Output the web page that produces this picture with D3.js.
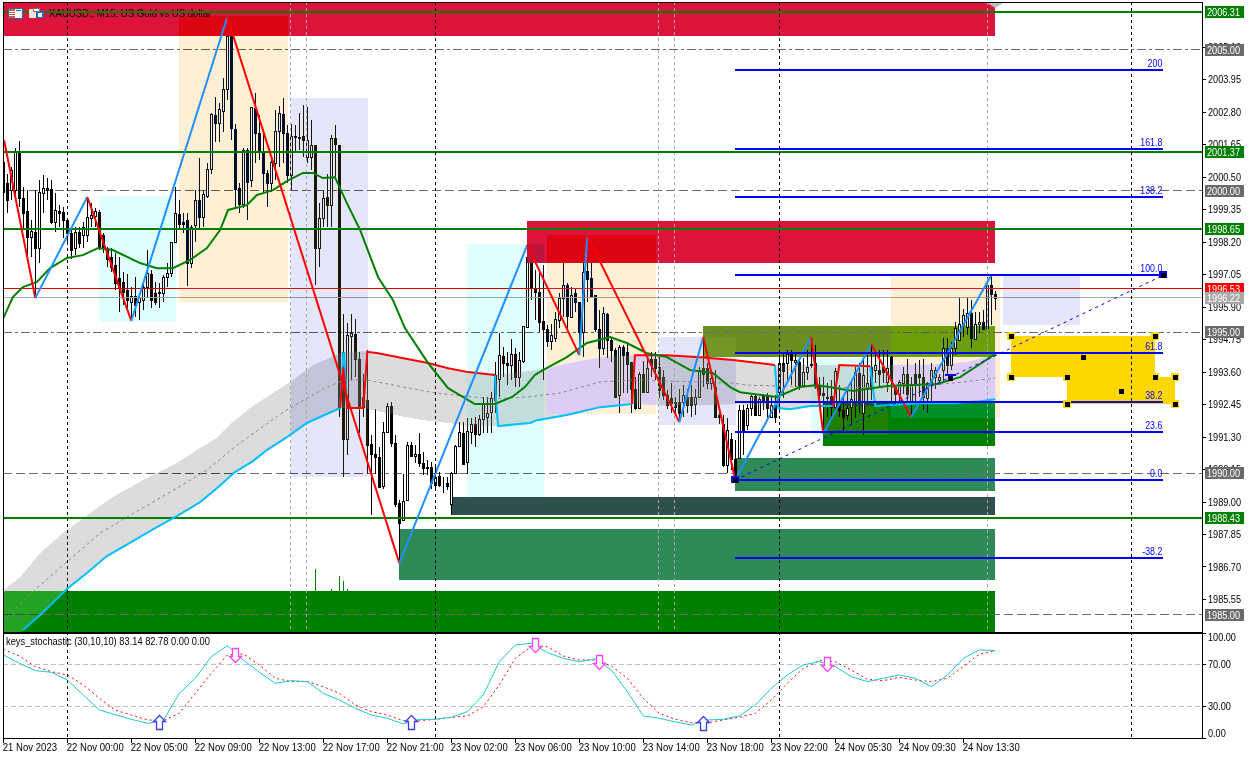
<!DOCTYPE html>
<html><head><meta charset="utf-8">
<script src="https://cdn.jsdelivr.net/npm/d3@7/dist/d3.min.js"></script>
<style>
html,body{margin:0;padding:0;background:#fff;overflow:hidden}
text{font-family:"Liberation Sans",sans-serif;font-size:11px}
</style></head><body>
<svg id="c" width="1252" height="758"></svg>
<script>
// ---------- candles (bar 0 .. 248) ----------
const highs=[
2001.44,2000.61,2000.85,2001.5,2001.77,2000.14,2000.02,1998.96,2000.02,2000.38,
2000.56,2000.44,2000.38,1999.91,1999.49,1999.43,1999.02,1998.73,1998.73,1998.73,
1998.9,1999.78,1999.55,1999.38,1999.32,1998.49,1998.02,1997.96,1997.78,1997.66,
1997.13,1997.07,1996.6,1996.96,1996.37,1996.78,1997.9,1997.19,1996.78,1996.72,
1997.02,1997.43,1998.2,2000.14,1999.67,1999.2,1999.2,1998.79,2000.02,2001.15,
2000.02,2000.97,2002.74,2003.33,2003.09,2003.98,2006.16,2006.16,2002.38,2000.26,
2001.5,2001.5,2002.97,2003.45,2002.68,2002.03,2000.73,2001.09,2002.86,2003,
2003.27,2002.33,2002.38,2002.33,2002.74,2003.03,2002.97,2002.5,2001.62,1999.55,
2000.02,2000.61,2001.97,2002.33,2001.62,1995.63,1995.33,1995.63,1995.46,1994.3,
1993.53,1994.36,1991.37,1992.29,1990.94,1991.82,1992.47,1992.53,1991.35,1989.05,
1989.99,1991.12,1991.12,1990.99,1991.41,1990.76,1990.47,1990.41,1990.23,1990.05,
1989.88,1989.88,1990.05,1990.99,1991.82,1991.82,1991.94,1991.94,1992,1992.06,
1992.71,1992.71,1992.89,1993.95,1994.95,1994.48,1994.3,1994.74,1994.42,1994.3,
1995.21,1998.08,1997.78,1997.19,1997.13,1997.37,1995.24,1995.3,1995.72,1996.37,
1997.43,1996.72,1996.6,1996.55,1996.07,1997.43,1998.4,1997.84,1996.31,1995.78,
1995.9,1995.66,1994.83,1994.42,1994.54,1994.54,1994.66,1993.95,1993.42,1993.6,
1993.97,1994.07,1994.3,1994.3,1994.12,1993.65,1992.94,1993.18,1992.71,1993,
1993.12,1993,1993.12,1993,1993.77,1994.82,1993.89,1993.65,1993.65,1992.12,
1992.06,1991.94,1991.41,1991.17,1992.42,1992.42,1992.45,1992.77,1992.77,1992.71,
1992.8,1992.85,1992.71,1992.77,1994.18,1994.24,1994.36,1994.36,1994.24,1994.01,
1994.07,1994.36,1994.83,1994.54,1993.42,1993.42,1993.18,1993.3,1993.71,1993.12,
1992.65,1993,1993.3,1993.77,1993.89,1994.01,1994.19,1994.57,1994.36,1994.36,
1994.36,1994.36,1994.15,1993.12,1993.3,1993.77,1994.06,1993.41,1993.89,1994,
1994.06,1993.24,1993.89,1993.77,1993.53,1994.77,1994.77,1994.65,1995.36,1996.19,
1995.83,1996.19,1996.13,1995.72,1995.72,1995.77,1996.95,1997.01,1996.46];
const bodyTops=[
2001.03,2000.28,2000.73,2001.42,2001.42,1999.76,1999.29,1998.57,1998.54,1999.95,
2000.08,2000.08,2000.06,1999.32,1999.28,1999.25,1998.96,1998.51,1998.53,1998.53,
1998.7,1999.06,1999.14,1999.29,1999.26,1998.43,1997.96,1997.66,1997.37,1996.9,
1996.78,1996.48,1996.27,1996.27,1996.25,1996.6,1997.1,1997.04,1996.39,1996.43,
1996.96,1997.1,1998.17,1999.2,1999.17,1998.9,1998.96,1998.73,1999.69,1999.67,
1999.88,2000.76,2002.7,2002.68,2002.88,2003.59,2005.48,2005.48,2002.17,2000.08,
2001.44,2001.46,2002.95,2002.92,2002.03,2001.35,2000.64,2001.03,2002.12,2002.74,
2002.71,2002.03,2001.94,2001.94,2001.9,2001.94,2001.79,2001.62,2001.62,1999.02,
1999.76,1999.79,2001.85,2001.85,2001.62,1994.3,1994.89,1994.95,1994.93,1994.03,
1992.71,1992.59,1991.03,1990.68,1990.56,1991.47,1992.38,1992.38,1991.06,1988.93,
1989.03,1990.99,1990.99,1990.67,1990.68,1990.38,1990.23,1990.21,1989.88,1989.9,
1989.66,1989.66,1990.02,1990.97,1991.45,1991.41,1991.5,1991.76,1991.73,1991.91,
1992.45,1992.12,1992.68,1993.47,1994.18,1994.15,1993.91,1994.22,1994.22,1994,
1995.21,1997.66,1997.66,1996.57,1996.4,1995.39,1995.09,1994.89,1995.45,1996.19,
1996.66,1996.66,1996.31,1996.37,1996.07,1997.13,1997.16,1996.9,1996.31,1995.09,
1995.66,1995.64,1994.72,1994.36,1994.46,1994.46,1994.28,1993.95,1993,1993.5,
1993.5,1993.71,1994.03,1994.03,1993.77,1993.42,1992.77,1992.65,1992.53,1992.53,
1992.77,1992.71,1992.71,1992.71,1993.65,1993.71,1993.71,1993.36,1993.06,1992.06,
1991.76,1991.53,1991.2,1990.52,1992.24,1992.24,1992.3,1992.75,1992.75,1992.62,
1992.75,1992.77,1992.42,1992.42,1993.9,1993.89,1994.22,1994.22,1994.01,1993.95,
1993.6,1993.75,1993.87,1993.89,1993.12,1992.83,1992.71,1992.73,1993.63,1992.42,
1992.24,1992.3,1992.62,1993.6,1993.56,1993.48,1993.18,1993.77,1993.83,1993.65,
1993.77,1993.71,1994.1,1993.06,1993.24,1993.51,1993.53,1993.12,1993.51,1993.51,
1993.39,1993.18,1993.67,1993.65,1993.41,1994.45,1994.45,1994.45,1995.13,1995.28,
1995.6,1995.66,1995.66,1995.28,1995.34,1995.34,1996.66,1996.68,1996.34];
const bodyBottoms=[
1999.97,1999.67,2000.02,2000.02,1999.76,1999.22,1998.37,1998.37,1997.96,1997.96,
1999.93,2000.02,1998.9,1998.9,1999.2,1998.96,1998.51,1997.92,1997.96,1998.14,
1998.43,1998.45,1999.05,1999.1,1998.02,1997.96,1997.6,1997.31,1996.74,1996.6,
1996.43,1996.13,1996.07,1995.95,1996.07,1996.13,1996.6,1996.13,1996.07,1996.37,
1996.39,1996.96,1997.1,1998.17,1998.82,1998.82,1997.43,1997.43,1998.79,1999.08,
1999.08,1999.82,2000.76,2002.41,2002.41,2002.83,2003.59,2002.21,2000.06,1999.53,
1999.53,2000.32,2000.38,2002.03,2001.38,2000.64,2000.28,2000.28,2000.99,2002.12,
2002.05,2000.56,2000.56,2001.89,2001.85,2001.79,2001.2,2001.2,1997.96,1997.99,
1999.02,1999.49,1999.49,2001.65,1992.31,1991.23,1991.23,1994.87,1994.03,1992.35,
1992.33,1990.99,1990.68,1990.56,1989.52,1989.56,1991.47,1991.06,1988.91,1988.25,
1988.34,1989.05,1990.62,1990.62,1990.35,1990.19,1990.19,1989.64,1989.58,1989.58,
1989.64,1989.55,1988.9,1990.02,1990.97,1990.32,1990.41,1991.45,1991.39,1991.39,
1991.91,1992,1992.18,1992.59,1993.33,1993.91,1993.83,1993.83,1993.42,1993.42,
1993.97,1995.19,1996.54,1996.43,1995.34,1995.12,1994.68,1994.68,1994.8,1995.42,
1996.19,1995.57,1995.54,1996.07,1995.01,1995.01,1996.88,1996.29,1995.09,1994.42,
1994.42,1994.72,1994.36,1992.7,1992.77,1994.19,1993.87,1993,1992.3,1992.32,
1992.89,1992.89,1993.83,1993.71,1992.94,1992.77,1992.41,1992.47,1992.35,1992.12,
1992.53,1992.41,1992.41,1992.44,1992.71,1993.53,1993.18,1993.18,1992,1992,
1990.29,1990.29,1990.52,1989.82,1990.53,1991.53,1991.71,1992.3,1992.06,1992.06,
1992.53,1992.3,1991.98,1991.98,1992.88,1993.63,1993.89,1994.01,1993.94,1993.12,
1993.12,1993.6,1993.83,1993.06,1992.77,1992.77,1992.65,1992.33,1992.36,1992.24,
1992,1992.06,1992.33,1992.53,1992.53,1992.12,1993,1993,1993.65,1993.53,
1993.59,1993.24,1993.3,1992.82,1992.82,1993.2,1992.82,1992.53,1993.12,1993.39,
1992.71,1992.65,1993.14,1993.41,1993.3,1993.65,1993.83,1993.83,1994.45,1994.71,
1995.24,1995.18,1994.8,1994.75,1995.27,1995.1,1995.13,1996.34,1996.22];
const lows=[
1999.38,1999.2,1999.67,1999.67,1999.43,1998.61,1997.55,1997.66,1996.2,1997.43,
1999.2,1999.67,1998.84,1998.55,1998.73,1998.31,1998.14,1997.6,1997.72,1997.96,
1997.96,1998.2,1998.73,1998.73,1997.9,1997.78,1997.31,1997.13,1996.48,1995.72,
1995.95,1995.72,1995.39,1995.54,1995.42,1995.78,1996.25,1995.84,1995.95,1995.84,
1996.07,1996.6,1996.96,1998.14,1998.61,1998.49,1996.63,1997.25,1998.2,1998.61,
1998.73,1999.73,2000.61,2001.74,2001.74,2002.09,2003.21,2001.79,1999.43,1999.2,
1999.38,1998.96,2000.14,2000.97,2001.09,1999.97,1999.43,1999.97,2000.38,2000.85,
2000.97,2000.26,2000.02,2001.32,2001.44,2001.2,2000.97,2000.73,1996.66,1997.31,
1998.73,1998.73,1998.73,2000.5,1991.99,1989.88,1990.64,1993.3,1993.42,1991.41,
1992,1989.99,1988.52,1989.99,1989.5,1989.44,1991.41,1990.94,1988.81,1986.82,
1988.32,1989.03,1990.58,1990.35,1990.23,1989.93,1989.93,1989.46,1989.38,1989.52,
1989.31,1989.4,1988.52,1989.99,1990.94,1990.31,1989.99,1991.03,1990.94,1991.32,
1991.41,1991.41,1991.41,1992.12,1992.71,1993.42,1993.12,1993.3,1993.06,1993.06,
1993.89,1995.16,1996.13,1995.42,1995.01,1993.3,1994.48,1994.36,1994.66,1995.13,
1995.54,1995.07,1995.52,1995.72,1994.18,1994.13,1996.07,1996.19,1995.01,1993.71,
1994.19,1994.07,1993.95,1992.7,1992.12,1992.83,1992.83,1992.12,1992.24,1992.3,
1992.89,1992.89,1993.42,1993.3,1992.65,1992.59,1992.29,1992.12,1992.06,1991.81,
1992,1992.12,1992,1992.06,1992.65,1993.06,1993,1992.94,1992,1991.76,
1990.23,1990,1990.11,1989.76,1990.49,1990.65,1991.53,1992.03,1992.03,1992.03,
1992.24,1991.94,1991.94,1991.77,1992.24,1992.65,1993.18,1993.12,1993.06,1992.95,
1993.06,1993.3,1993.71,1993,1992.36,1991.39,1992,1992,1992.24,1991.98,
1991.41,1991.88,1991.71,1991.94,1992.12,1991.35,1992.42,1992.59,1993.18,1993.06,
1993.18,1992.88,1992.53,1992.53,1992.53,1992.82,1992.47,1991.99,1992.41,1992.71,
1992.23,1992.12,1992.53,1992.98,1993.12,1993.18,1993.53,1993.65,1994.18,1994.71,
1994.83,1994.89,1994.42,1994.71,1994.95,1995.07,1995.13,1995.24,1995.77];
const directions=(
"DDUUDDDUDU"+"UDDUDDDDUD"+"UUUUDDDDDD"+"DDUDUUUDDU"+"UUUUDDDUUD"+
"UUUDUUUDDD"+"UDUDDDDUUU"+"DDUDDDUUDU"+"UDUD"+"DDUUDD"+
"DDDDDUUDDD"+"UUDUDDUDUD"+"UDUUUDUUDU"+"UUUUUDDUDU"+"UUDDDDDUUU"+
"UDUDDUDDDD"+"UDDDUDDDDU"+"DUDDDDDDDD"+"UDDUUDDUDD"+"DUDDUDUUDU"+
"DDUDUDUDUD"+"UUDDDDDDUD"+"DUUUDUUDUD"+"DUDDUUDUDD"+"DUUUUUDUUU"+"UUDUUDUDD").split("");

// ---------- zones: bar start, bar end, price high, price low ----------
const crimsonZones=[[-0.1,248,2007,2005.48],[130.9,248,1998.93,1997.44]];
const baseZoneNames=["olive","green","seagreen1","slate","seagreen2","greenBottom"];
const baseZoneBars=[[174.9,248],[204.9,248],[182.9,248],[111.9,248],[98.9,248],[-0.1,248]];
const baseZonePrices=[[1995.21,1994.11],[1992.52,1990.96],[1990.54,1989.37],[1989.16,1988.52],[1988.02,1986.22],[1985.83,1984.3]];
const baseZoneColors=["#6B8E23","#008000","#2E8B57","#2F4F4F","#2E8B57","#008000"];
const softZoneBars=[[43.9,71.2],[135.9,163.2],[221.9,249.2],[23.9,43.2],[115.9,135.2],[201.9,221.2],[71.9,91.2],[163.9,183.2],[249.9,269.2]];
const softZonePrices=[[2006.18,1996.06],[1998.43,1992.09],[1996.98,1991.95],[1999.81,1995.35],[1998.11,1989.16],[1994.08,1991.35],[2003.28,1989.86],[1994.82,1991.71],[1996.98,1995.25]];
const softZoneColors=["#FFEFD5","#FFEFD5","#FFEFD5","#E0FFFF","#E0FFFF","#E0FFFF","#E6E6FA","#E6E6FA","#E6E6FA"];

// ---------- moving average bands ----------
const bandTopBars=[0,4.2,9.2,14.9,21.7,27.4,35.9,43.4,49.2,53.4,57.4,61.7,65.9,71.7,77.4,84.9,91,93.7,99.7,106.2,111.2,116.2,122.9,132.9,135.9,144.9,152.4,157.9,165.9,174.2,182.4,192.9,209,216.7,222,234.2,241,248];
const bandTopPrices=[1985.86,1986.32,1987.17,1987.88,1988.59,1989.16,1989.83,1990.36,1990.89,1991.25,1991.81,1992.31,1992.7,1993.23,1993.83,1994.29,1994.32,1994.25,1994.08,1993.9,1993.72,1993.58,1993.48,1993.65,1993.72,1994,1994.15,1994.18,1994.18,1994.11,1994.01,1993.83,1993.83,1993.79,1993.83,1993.86,1993.94,1994.22];
const bandLowBars=[0,4.9,9.2,15.9,20.9,25.9,32.4,38.4,43.4,49.2,53.4,57.9,62.4,65.9,70.9,75.9,79.2,84.2,90,98,104.7,111.2,116.2,123.7,131.7,133.4,140.9,149.2,157.2,164.2,174.2,183.4,193.7,196.7,201.7,207.4,218,229.2,237.4,244.2,248];
const bandLowPrices=[1983.8,1984.45,1984.98,1985.9,1986.47,1987.07,1987.6,1988.09,1988.48,1988.98,1989.47,1990.04,1990.43,1990.82,1991.28,1991.78,1991.99,1992.31,1992.31,1992.06,1991.88,1991.78,1991.67,1991.67,1991.78,1991.88,1992.06,1992.34,1992.45,1992.41,1992.41,1992.45,1992.31,1992.27,1992.38,1992.38,1992.38,1992.48,1992.48,1992.55,1992.62];
const midBars=[0.9,8.7,15.9,24.2,30.9,43.4,50.9,58.4,70,80,84.9,91,104.2,108,122.2,131.2,139.2,149.2,157.4,174.2,182.4,186,204.2,220.9,237.4,248];
const midPrices=[1984.91,1985.97,1986.86,1987.88,1988.45,1989.47,1990.11,1990.99,1992.17,1992.98,1993.3,1993.3,1992.94,1992.84,1992.63,1992.7,1992.84,1993.23,1993.3,1993.23,1993.19,1993.12,1993.05,1993.02,1993.19,1993.37];
const cyanSegmentBars=[
[4.9,9.2,15.9,20.9,25.9,32.4,38.4,43.4,49.2,53.4,57.9,62.4,65.9,70.9,75.9,79.2,84.2,85,85.2,85.6,86,90],
[122.9,123.2,123.7,131.7,133.4,140.9,149.2,157.2],
[192.9,193.7,196.7,201.7,207.4],
[216.7,218,229.2,237.4,244.2,248]];
const cyanSegmentPrices=[
[1984.45,1984.98,1985.9,1986.47,1987.07,1987.6,1988.09,1988.48,1988.98,1989.47,1990.04,1990.43,1990.82,1991.28,1991.78,1991.99,1992.31,1994.25,1994.25,1993.2,1992.31,1992.31],
[1993.48,1992.59,1991.67,1991.78,1991.88,1992.06,1992.34,1992.45],
[1993.83,1992.31,1992.27,1992.38,1992.38],
[1993.79,1992.38,1992.48,1992.48,1992.55,1992.62]];
const redSegmentBars=[
[84.2,85,86,90,91,93.7,99.7,106.2,111.2,116.2,122.9],
[157.2,157.9,165.9,174.2,182.4,192.9],
[207.4,209,216.7]];
const redSegmentPrices=[
[1992.31,1993.75,1992.31,1992.31,1994.3,1994.25,1994.08,1993.9,1993.72,1993.58,1993.48],
[1992.45,1994.18,1994.18,1994.11,1994.01,1993.83],
[1992.38,1993.83,1993.79]];
const maBars=[0,2.4,4.9,8.4,11.7,15.9,19.9,23.7,27.4,34.2,38.4,42.4,46.7,50.9,54.2,56.2,60.9,63.4,67.4,70.9,74.9,77.4,79.9,82.9,85.9,89.2,93.7,97.4,100.4,106.2,111.2,117.9,122.9,127.2,130.4,132.9,134.9,140.9,145.9,151.7,155.9,160.9,165.9,171.7,177.4,181.7,184.2,193.4,199.2,203.4,212.4,220.9,233.4,239.2,248];
const maPrices=[1995.49,1996.24,1996.59,1996.77,1997.26,1997.62,1997.72,1997.97,1997.9,1997.44,1997.26,1997.26,1997.55,1997.97,1998.61,1999.32,1999.49,1999.85,2000.02,2000.34,2000.63,2000.63,2000.45,2000.48,1999.56,1998.61,1996.94,1996.13,1995.14,1993.9,1993.01,1992.45,1992.45,1992.7,1993.05,1993.48,1993.65,1994.11,1994.61,1994.82,1994.61,1994.25,1994.11,1993.65,1993.55,1993.05,1992.87,1992.7,1993.05,1993.12,1992.91,1993.09,1993.16,1993.4,1994.22];
// ---------- zigzag ----------
const zigzagBars=[0.2,8,21,32,56,99,131,144,146,169,175,183,202,205,217,227,247];
const zigzagPrices=[2001.79,1996.2,1999.78,1995.39,2006.15,1986.82,1998.08,1994.18,1998.4,1991.81,1994.82,1989.76,1994.82,1991.39,1994.57,1991.99,1997.01];
// ---------- horizontal levels ----------
const roundLevels=[2005,2000,1995,1990,1985];
const greenLevels=[2006.31,2001.37,1998.65,1988.43];
const askLevel=1996.53, bidLevel=1996.22;
const priceTicks=[2005.10,2003.95,2002.80,2001.65,2000.50,1999.35,1998.20,1997.05,1995.90,1994.75,1993.60,1992.45,1991.30,1990.15,1989.00,1987.85,1986.70,1985.55];
// ---------- fibonacci ----------
const fibLabels=["200","161.8","138.2","100.0","61.8","38.2","23.6","0.0","-38.2"];
const fibPrices=[2004.26,2001.49,1999.78,1997.01,1994.24,1992.53,1991.47,1989.76,1986.99];
const fibBars=[183,290];
const fibAnchorPrices=[1989.76,1997.01];
const fibMidpoint=[236.7,1993.38];
// ---------- gold shapes ----------
const goldBars=[[251.9,287.9],[266,293]];
const goldPrices=[[1994.86,1993.4],[1993.4,1992.45]];
const goldCentres=[[269.9,1994.11],[279.4,1992.91]];
// ---------- small marks above the bottom zone ----------
const stubBars=[78,82,84,85,86];
const stubTops=[1986.61,1985.9,1986.36,1986.18,1985.9];
// ---------- verticals ----------
const blackVerticalBars=[16,108,194,282];
const greyVerticalBars=[71.9,75.9,163.9,167.9,246];
// ---------- stochastic (every 4th bar) ----------
const stochBars=d3.range(0,249,4);
const stochMain=[78.9,71,64,62.4,55,40.8,26.5,22,17.6,13.8,16.3,42.4,56.7,77.3,87.8,74.1,62.4,51.9,54.4,53.5,42.4,36,28.1,21.7,18.6,13.2,17.6,17.6,19.5,24.9,40.8,72.5,88.4,
90,81.1,75.7,72.5,75.1,64.6,44,20.8,18.6,15.1,12.2,17,17.6,20.8,31.3,47.1,59.8,69.4,72.5,67.8,58.3,53.5,56.7,59.8,56.7,48.7,59.8,75.7,83.7,83.14];
const stochSignal=[84.3,77.9,67.8,63,59.8,50.3,37.6,26.5,21.7,17,16.3,23.3,42.4,61.4,78.9,79.8,69.4,56.7,53.5,53.5,48.7,42.4,31.3,24.9,21.7,16.3,16.3,17.6,19.5,20.8,29.7,50.3,75.7,
86.8,86.8,77.9,74.1,74.1,68.4,56.7,37.6,23.3,17.6,14.4,14.4,17,19.5,23.3,36,51.9,66.2,73.5,72.5,64.6,55.7,54.4,57.6,55,53.5,56.7,67.8,79.8,82.78];
const stochLevels=[70,30];
const stochTicks=[100,70,30,0];
const upArrowBars=[39,102,175], upArrowValues=[21.7,21.7,20.8];
const downArrowBars=[58,133,149,206], downArrowValues=[72.2,81.7,65.5,63.6];
// ---------- time axis ----------
const timeBars=d3.range(0,241,16);
const timeLabels=["21 Nov 2023","22 Nov 00:00","22 Nov 05:00","22 Nov 09:00","22 Nov 13:00","22 Nov 17:00","22 Nov 21:00","23 Nov 02:00","23 Nov 06:00","23 Nov 10:00","23 Nov 14:00","23 Nov 18:00","23 Nov 22:00","24 Nov 05:30","24 Nov 09:30","24 Nov 13:30"];
const chartTitle="XAUUSD., M15:  US Gold vs US dollar";
const stochTitle="keys_stochastic (30,10,10) 83.14 82.78 0.00 0.00";

// ---------- drawing ----------
const W=1252,L=3,R=1202,T=2,B=632,ST=633,SB=738;
const x=d3.scaleLinear([0,248],[3.3,995.3]);
const y=d3.scaleLinear([1985,2005],[614.5,49.5]);
const s=d3.scaleLinear([0,100],[737.8,632.8]);
const cx=i=>Math.floor(x(i))+0.5;
const ry=p=>Math.round(y(p));
const hy=p=>Math.floor(y(p))+0.5;
function squeeze(sel,f){sel.each(function(){const l=this.getComputedTextLength();this.setAttribute("textLength",(l*f).toFixed(2));this.setAttribute("lengthAdjust","spacingAndGlyphs");});return sel}
const svg=d3.select("#c");
const defs=svg.append("defs");
defs.append("clipPath").attr("id","plot").append("rect").attr("x",L).attr("y",T).attr("width",R-L).attr("height",B-T);
const topPts=bandTopBars.map((b,i)=>[b,bandTopPrices[i]]);
const lowPts=bandLowBars.map((b,i)=>[b,bandLowPrices[i]]);
const bandPath=d3.line().x(d=>x(d[0])).y(d=>y(d[1]))(topPts.concat(lowPts.slice().reverse()))+"Z";
defs.append("clipPath").attr("id","band").append("path").attr("d",bandPath);

svg.append("rect").attr("width",W).attr("height",758).attr("fill","#fff");
const plot=svg.append("g").attr("clip-path","url(#plot)");
plot.append("rect").attr("x",L).attr("y",T).attr("width",R-L).attr("height",B-T).attr("fill","#fff");

const rgb=c=>{const q=d3.rgb(c);return [q.r,q.g,q.b]};
const inv=c=>rgb(c).map(v=>255-v);
const css=a=>`rgb(${a[0]},${a[1]},${a[2]})`;
const BAND=inv("#DCDCDC");
function rectOf(bars,prices){return {x0:x(bars[0]),x1:x(bars[1]),y0:y(prices[0]),y1:y(prices[1])}}
function inter(a,b){const r={x0:Math.max(a.x0,b.x0),x1:Math.min(a.x1,b.x1),y0:Math.max(a.y0,b.y0),y1:Math.min(a.y1,b.y1)};return (r.x1>r.x0&&r.y1>r.y0)?r:null}
function drawRect(g,r,fill){return g.append("rect").attr("x",Math.round(r.x0)).attr("y",Math.round(r.y0)).attr("width",Math.round(r.x1)-Math.round(r.x0)).attr("height",Math.round(r.y1)-Math.round(r.y0)).attr("fill",fill)}
// corrected base so that the difference layer reproduces an XOR result
function corrected(z,d){return z.map((v,i)=>{const t=v^d[i];return d[i]+t<=255?d[i]+t:Math.abs(d[i]-t)})}

const base=plot.append("g").attr("shape-rendering","crispEdges");
baseZoneColors.forEach((c,i)=>drawRect(base,rectOf(baseZoneBars[i],baseZonePrices[i]),c));
softZoneColors.forEach((c,j)=>{
  const r=rectOf(softZoneBars[j],softZonePrices[j]);
  baseZoneColors.forEach((zc,i)=>{
    if(baseZoneNames[i]!=="olive"&&baseZoneNames[i]!=="green")return;
    const o=inter(r,rectOf(baseZoneBars[i],baseZonePrices[i]));
    if(o)drawRect(base,o,css(corrected(rgb(zc),inv(c))));
  });
});
// bottom zone seen through the band
base.append("g").attr("clip-path","url(#band)").call(g=>drawRect(g,rectOf(baseZoneBars[5],baseZonePrices[5]),css(corrected(rgb("#008000"),BAND))));

// small stubs
const under=plot.append("g").attr("shape-rendering","crispEdges");
under.selectAll(".stub").data(stubBars).join("line").attr("x1",d=>cx(d)).attr("x2",d=>cx(d))
 .attr("y1",(d,i)=>y(stubTops[i])).attr("y2",y(1985.83)).attr("stroke","#008000");
// round levels
under.selectAll(".lvl").data(roundLevels).join("line").attr("x1",L).attr("x2",R).attr("y1",d=>hy(d)).attr("y2",d=>hy(d))
 .attr("stroke","#6b6b6b").attr("stroke-dasharray",d=>(d===2005||d===1995)?"9,3,3,3":"9,4");
// candles
const bars=d3.range(highs.length);
const cg=plot.append("g").attr("shape-rendering","crispEdges");
cg.selectAll(".w").data(bars).join("line").attr("x1",cx).attr("x2",cx).attr("y1",i=>ry(highs[i])).attr("y2",i=>ry(lows[i])).attr("stroke","#000");
cg.selectAll(".b").data(bars).join("rect").attr("x",i=>cx(i)-1).attr("width",2)
 .attr("y",i=>ry(bodyTops[i])+0.5).attr("height",i=>Math.max(0,ry(bodyBottoms[i])-ry(bodyTops[i])))
 .attr("fill",i=>directions[i]==="U"?"#fff":"#000").attr("stroke","#000");
// ask / bid
plot.append("line").attr("x1",L).attr("x2",R).attr("y1",hy(askLevel)).attr("y2",hy(askLevel)).attr("stroke","#e00000").attr("shape-rendering","crispEdges");
plot.append("line").attr("x1",L).attr("x2",R).attr("y1",hy(bidLevel)).attr("y2",hy(bidLevel)).attr("stroke","#aaaaaa").attr("shape-rendering","crispEdges");
// crimson zones sit above the candles
crimsonZones.forEach(z=>drawRect(plot.append("g").attr("shape-rendering","crispEdges"),rectOf(z.slice(0,2),z.slice(2,4)),"#DC143C"));

// translucent-looking layer: XOR style painting
const diff=plot.append("g").style("mix-blend-mode","difference").attr("shape-rendering","crispEdges");
diff.append("path").attr("d",bandPath).attr("fill",css(BAND));
softZoneColors.forEach((c,j)=>{
  const r=rectOf(softZoneBars[j],softZonePrices[j]);
  drawRect(diff,r,css(inv(c)));
  drawRect(diff.append("g").attr("clip-path","url(#band)"),r,css(inv(c).map((v,i)=>v^BAND[i])));
});

// gold shapes and fibo
const over=plot.append("g");
goldBars.forEach((b,i)=>drawRect(over.append("g").attr("shape-rendering","crispEdges"),rectOf(b,goldPrices[i]),"#FFD700"));
// verticals
over.selectAll(".gv").data(greyVerticalBars).join("line").attr("x1",d=>cx(d)).attr("x2",d=>cx(d)).attr("y1",T).attr("y2",B)
 .attr("stroke","#a6a6a6").attr("stroke-dasharray","3,3").attr("shape-rendering","crispEdges");
// price-level lines
over.selectAll(".gl").data(greenLevels).join("line").attr("x1",L).attr("x2",R).attr("y1",d=>ry(d)).attr("y2",d=>ry(d))
 .attr("stroke","#008000").attr("stroke-width",2).attr("shape-rendering","crispEdges");
// midline and MA
const line=d3.line().x(d=>x(d[0])).y(d=>y(d[1]));
const zip=(a,b)=>a.map((v,i)=>[v,b[i]]);
over.append("path").attr("d",line(zip(midBars,midPrices))).attr("fill","none").attr("stroke","#8c8c8c").attr("stroke-dasharray","3,3");
cyanSegmentBars.forEach((b,i)=>over.append("path").attr("d",line(zip(b,cyanSegmentPrices[i]))).attr("fill","none").attr("stroke","#00BFFF").attr("stroke-width",2));
redSegmentBars.forEach((b,i)=>over.append("path").attr("d",line(zip(b,redSegmentPrices[i]))).attr("fill","none").attr("stroke","#FF0000").attr("stroke-width",2));
over.append("path").attr("d",line(zip(maBars,maPrices))).attr("fill","none").attr("stroke","#008000").attr("stroke-width",2);
// zigzag
zigzagBars.slice(1).forEach((b,i)=>{
  over.append("line").attr("x1",x(zigzagBars[i])).attr("y1",y(zigzagPrices[i])).attr("x2",x(b)).attr("y2",y(zigzagPrices[i+1]))
   .attr("stroke",zigzagPrices[i+1]>zigzagPrices[i]?"#1E90FF":"#FF0000").attr("stroke-width",2);
});
// fib levels
over.selectAll(".fl").data(fibPrices).join("line").attr("x1",x(fibBars[0])).attr("x2",x(fibBars[1])).attr("y1",d=>ry(d)).attr("y2",d=>ry(d))
 .attr("stroke","#0000FF").attr("stroke-width",2).attr("shape-rendering","crispEdges");
over.append("line").attr("x1",x(fibBars[0])).attr("y1",y(fibAnchorPrices[0])).attr("x2",x(fibBars[1])).attr("y2",y(fibAnchorPrices[1]))
 .attr("stroke","#0000FF").attr("stroke-dasharray","3,4");
squeeze(over.selectAll(".ft").data(fibLabels).join("text").attr("x",x(fibBars[1])-1).attr("y",(d,i)=>ry(fibPrices[i])-3)
 .attr("text-anchor","end").attr("fill","#0000FF").text(d=>d),0.8);
// handles
function handle(b,p,yellow){
  if(yellow)over.append("rect").attr("x",Math.round(x(b))-4).attr("y",Math.round(y(p))-4).attr("width",8).attr("height",8).attr("fill","#FFD700").attr("shape-rendering","crispEdges");
  over.append("rect").attr("x",Math.round(x(b))-2).attr("y",Math.round(y(p))-2).attr("width",5).attr("height",5).attr("fill","#000").attr("shape-rendering","crispEdges");
}
goldBars.forEach((b,i)=>{ b.forEach(bb=>goldPrices[i].forEach(pp=>handle(bb,pp,true))); });
goldCentres.forEach(c=>handle(c[0],c[1],false));
fibBars.forEach((b,i)=>{
  over.append("rect").attr("x",Math.round(x(b))-4).attr("y",Math.round(y(fibAnchorPrices[i]))-4).attr("width",8).attr("height",7).attr("fill","#0000FF").attr("shape-rendering","crispEdges");
  handle(b,fibAnchorPrices[i],false);
});
over.append("rect").attr("x",Math.round(x(fibMidpoint[0]))-5).attr("y",Math.round(y(fibMidpoint[1]))-4).attr("width",11).attr("height",2).attr("fill","#0000FF").attr("shape-rendering","crispEdges");
handle(fibMidpoint[0],fibMidpoint[1],false);

// title, icons, corner marker
squeeze(svg.append("text").attr("x",49).attr("y",17).attr("fill","#000").text(chartTitle),0.87);
svg.append("line").attr("x1",L).attr("x2",R).attr("y1",ry(greenLevels[0])).attr("y2",ry(greenLevels[0])).attr("stroke","#008000").attr("stroke-width",2).attr("shape-rendering","crispEdges");
const ic=svg.append("g").attr("shape-rendering","crispEdges");
ic.append("rect").attr("x",8.5).attr("y",8.5).attr("width",14).attr("height",10).attr("fill","#fff").attr("stroke","#1a6bb5");
ic.append("rect").attr("x",9).attr("y",9).attr("width",6).attr("height",9).attr("fill","#e8503a");
[11,13,15].forEach(v=>ic.append("line").attr("x1",9).attr("x2",22).attr("y1",v+.5).attr("y2",v+.5).attr("stroke","#fff"));
ic.append("rect").attr("x",16).attr("y",9.5).attr("width",5).attr("height",1.5).attr("fill","#1a6bb5");
ic.append("rect").attr("x",29).attr("y",9).attr("width",7).attr("height",9).attr("fill","#fbe3dc");
ic.append("rect").attr("x",36).attr("y",11).attr("width",8).attr("height",7).attr("fill","#1a6bb5");
ic.append("rect").attr("x",33).attr("y",8).attr("width",6).attr("height",3).attr("fill","#fff").attr("stroke","#777");
ic.append("rect").attr("x",38).attr("y",13).attr("width",4).attr("height",4).attr("fill","#fff");
svg.append("path").attr("d",d3.line()([[x(246),T+1],[x(250),T+1],[x(248),T+6]])).attr("fill","#bdbdbd");

// black verticals through both panes
svg.append("g").selectAll("line").data(blackVerticalBars).join("line").attr("x1",d=>cx(d)).attr("x2",d=>cx(d)).attr("y1",T).attr("y2",SB)
 .attr("stroke","#000").attr("stroke-dasharray","3,3").attr("shape-rendering","crispEdges");

// stochastic pane
const sub=svg.append("g");
sub.selectAll(".sl").data(stochLevels).join("line").attr("x1",L).attr("x2",R).attr("y1",d=>Math.round(s(d))+.5).attr("y2",d=>Math.round(s(d))+.5)
 .attr("stroke","#c0c0c0").attr("stroke-dasharray","5,3").attr("shape-rendering","crispEdges");
const sline=d3.line().x((d,i)=>x(stochBars[i])).y(d=>s(d));
sub.append("path").attr("d",sline(stochSignal)).attr("fill","none").attr("stroke","#FF0000").attr("stroke-dasharray","2,3");
sub.append("path").attr("d",sline(stochMain)).attr("fill","none").attr("stroke","#1CC8D0");
function arrow(b,v,up,col){
  const px=Math.round(x(b))+.5, ty=Math.round(s(v))+.5, d=up?1:-1, h=6*d, len=14*d;
  const pts=[[px,ty],[px+6,ty+h],[px+3,ty+h],[px+3,ty+len],[px-3,ty+len],[px-3,ty+h],[px-6,ty+h]];
  sub.append("path").attr("d",d3.line()(pts)+"Z").attr("fill","#fff").attr("stroke",col).attr("stroke-width",1.3);
}
upArrowBars.forEach((b,i)=>arrow(b,upArrowValues[i],true,"#3a3aff"));
downArrowBars.forEach((b,i)=>arrow(b,downArrowValues[i],false,"#ff40ff"));
squeeze(sub.append("text").attr("x",6).attr("y",645).attr("fill","#000").text(stochTitle),0.846);

// frames
const fr=svg.append("g").attr("fill","none").attr("stroke","#000").attr("shape-rendering","crispEdges");
fr.append("rect").attr("x",L).attr("y",T).attr("width",R-L).attr("height",B-T);
fr.append("rect").attr("x",L).attr("y",ST).attr("width",R-L).attr("height",SB-ST);

// axes
const priceAxis=svg.append("g").attr("transform",`translate(${R},0)`).call(d3.axisRight(y).tickValues(priceTicks).tickFormat(d3.format(".2f")).tickSize(4).tickPadding(2));
const stochAxis=svg.append("g").attr("transform",`translate(${R},0)`).call(d3.axisRight(s).tickValues(stochTicks).tickFormat(d3.format(".2f")).tickSize(4).tickPadding(2));
stochAxis.selectAll("text").attr("dy",d=>d===100?"0.72em":d===0?"-0.15em":"0.32em");
const timeAxis=svg.append("g").attr("transform",`translate(0,${SB})`).call(d3.axisBottom(x).tickValues(timeBars).tickFormat((d,i)=>timeLabels[i]).tickSize(5).tickPadding(0));
timeAxis.selectAll("text").attr("text-anchor","start").attr("dx",-1);
[priceAxis,stochAxis,timeAxis].forEach(a=>{a.select(".domain").remove();a.attr("font-family",null).attr("font-size",null);a.selectAll("line").attr("stroke","#000").attr("shape-rendering","crispEdges");a.selectAll("text").attr("fill","#000")});
squeeze(priceAxis.selectAll("text"),0.83);
squeeze(stochAxis.selectAll("text"),0.83);
squeeze(timeAxis.selectAll("text"),0.87);

// right-hand price tags
const tags=svg.append("g");
function tag(p,fill,txtFill){
  const cy=ry(p);
  tags.append("rect").attr("x",1205).attr("y",cy-6).attr("width",39).attr("height",12).attr("fill",fill).attr("shape-rendering","crispEdges");
  squeeze(tags.append("text").attr("x",1207).attr("y",cy+4).attr("fill",txtFill).text(d3.format(".2f")(p)),0.83);
}
greenLevels.forEach(p=>tag(p,"#008000","#fff"));
roundLevels.forEach(p=>tag(p,"#6b6b6b","#fff"));
tag(askLevel,"#FF0000","#fff");
tag(bidLevel,"#A9A9A9","#fff");
</script>
</body></html>
